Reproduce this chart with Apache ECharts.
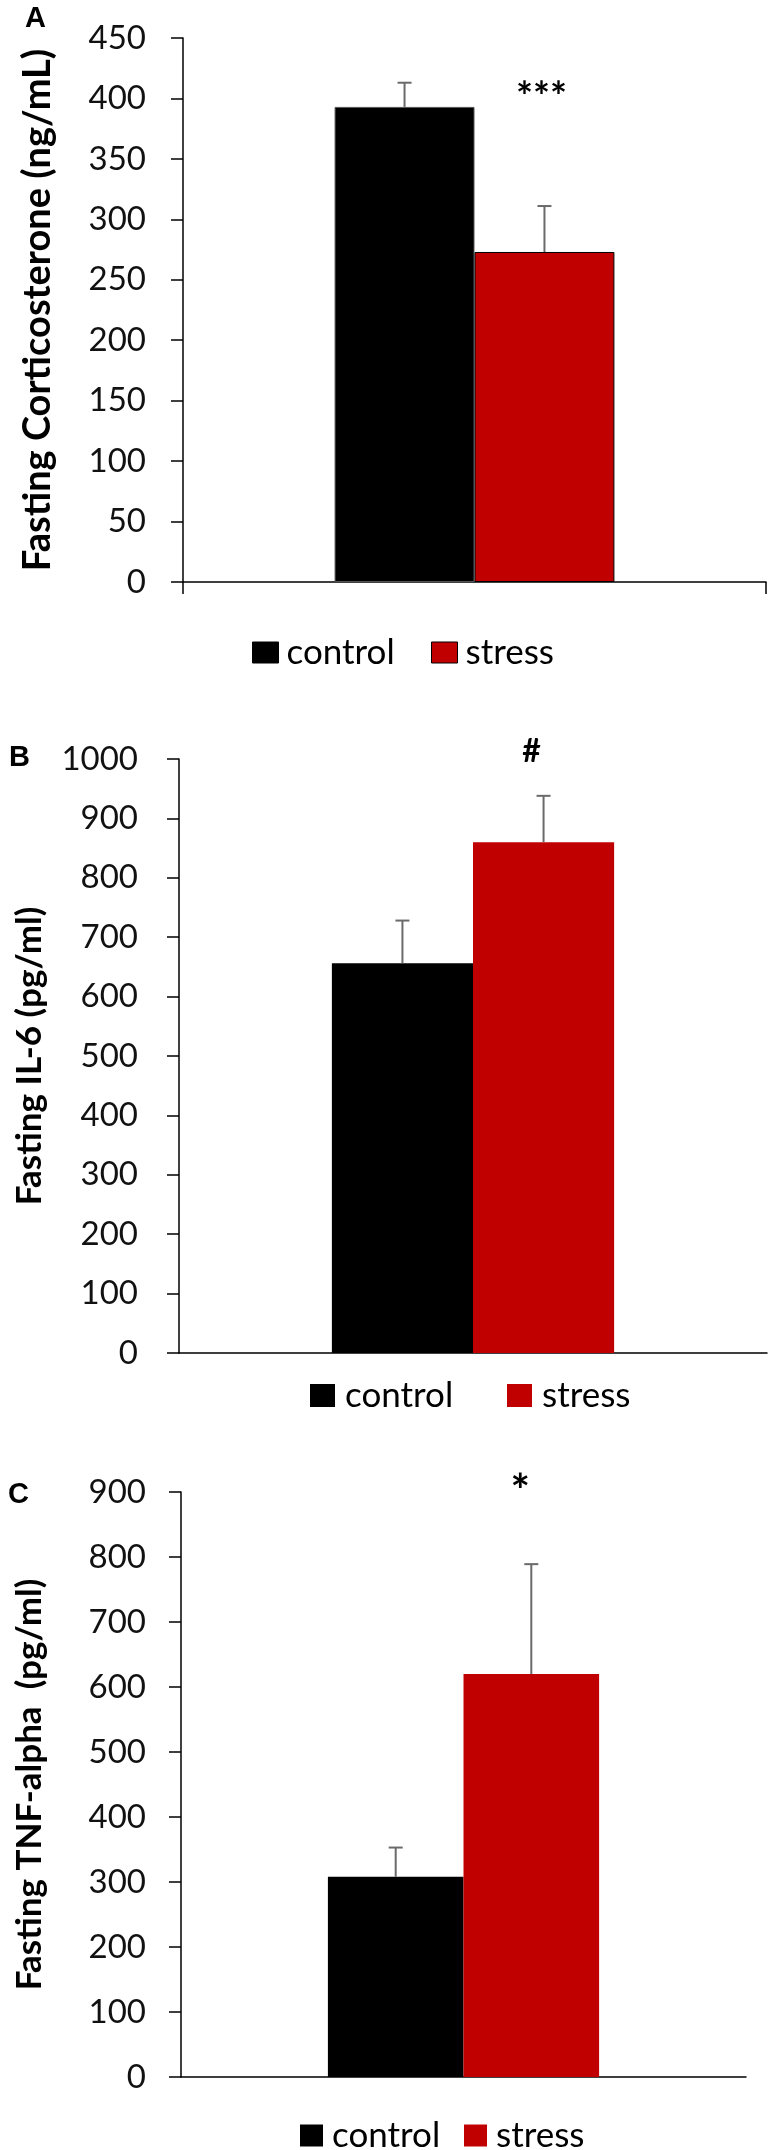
<!DOCTYPE html>
<html><head><meta charset="utf-8">
<script src="https://cdn.jsdelivr.net/npm/echarts@6/dist/echarts.min.js"></script>
<style>html,body{margin:0;padding:0;background:#fff}#c{width:776px;height:2150px}</style>
</head><body><div id="c"></div>
<script>
// ---------- data ----------
const groups = ['control', 'stress'];
const categories = ['all'];
const panelLetters = ['A', 'B', 'C'];
const yTitles = ['Fasting Corticosterone (ng/mL)', 'Fasting IL-6 (pg/ml)', 'Fasting TNF-alpha  (pg/ml)'];
const yMax = [450, 1000, 900];
const yInterval = [50, 100, 100];
// panel A: corticosterone
const corticoMean = [393, 273];
const corticoErr = [20, 38];
// panel B: IL-6
const il6Mean = [656, 860];
const il6Err = [72, 78];
// panel C: TNF-alpha
const tnfMean = [308, 620];
const tnfErr = [45, 169];
// significance marks (over stress bar)
const sigLabels = ['***', '#', '*'];
const sigLevels = [400, 1012, 900];

// ---------- layout / style ----------
const means = [corticoMean, il6Mean, tnfMean];
const errs = [corticoErr, il6Err, tnfErr];
const FONT = 'Lato';
const colors = ['#000000', '#C00000'];
const grids = [
  {left: 183, top: 38, width: 583, height: 544},
  {left: 179, top: 759, width: 588, height: 594},
  {left: 181, top: 1492, width: 565, height: 585}
];
const nameGaps = [126, 132, 134];
const nameSizes = [38, 35, 35];
const labelMargins = [37, 41, 35];
const legendTops = [635, 1378, 2118];
const legendLefts = [[252, 431], [310, 507], [300, 464]];
const legendTextPad = [3, 5, 4];
const legendIcon = [[26, 21], [25, 23], [23, 22]];
const sigFont = [40, 32, 46];
const sigDx = [-3, -12, -11];
const letterPos = [[25, 4], [9, 743], [8, 1480]];
const barFrac = 0.24;

const option = {
  animation: false,
  grid: grids.map(g => Object.assign({containLabel: false, outerBoundsMode: 'none'}, g)),
  xAxis: grids.map((g, i) => ({
    type: 'category', gridIndex: i, data: categories,
    axisLine: {lineStyle: {color: '#000', width: 1.5}},
    axisTick: {show: i === 0, length: 12, inside: false, lineStyle: {color: '#000', width: 1.5}},
    axisLabel: {show: false}
  })),
  yAxis: grids.map((g, i) => ({
    type: 'value', gridIndex: i, min: 0, max: yMax[i], interval: yInterval[i],
    name: yTitles[i], nameLocation: 'middle', nameRotate: 90, nameGap: nameGaps[i],
    nameTextStyle: {fontFamily: FONT, fontWeight: 'bold', fontSize: nameSizes[i], color: '#000'},
    axisLine: {show: true, lineStyle: {color: '#000', width: 1.5}},
    axisTick: {show: true, length: 12, inside: false, lineStyle: {color: '#000', width: 1.5}},
    splitLine: {show: false},
    axisLabel: {fontFamily: FONT, fontSize: 33, color: '#111', margin: labelMargins[i],
      formatter: v => String(v)}
  })),
  legend: [],
  graphic: panelLetters.map((t, i) => ({
    type: 'text', left: letterPos[i][0], top: letterPos[i][1],
    style: {text: t, font: 'bold 29px "Liberation Sans"', fill: '#000'}
  })),
  series: []
};

function errRender(offset) {
  return function (params, api) {
    const x = api.value(0), v = api.value(1), e = api.value(2);
    const p0 = api.coord([x, v]);
    const p1 = api.coord([x, v + e]);
    const band = api.size([1, 0])[0];
    const cx = p0[0] + offset * band;
    const half = 7;
    const st = {stroke: '#6a6a6a', lineWidth: 2};
    return {type: 'group', children: [
      {type: 'line', shape: {x1: cx, y1: p0[1], x2: cx, y2: p1[1]}, style: st},
      {type: 'line', shape: {x1: cx - half, y1: p1[1], x2: cx + half, y2: p1[1]}, style: st}
    ]};
  };
}

for (let i = 0; i < 3; i++) {
  groups.forEach((gname, j) => {
    const bordered = i === 0;
    option.series.push({
      type: 'bar', name: gname, xAxisIndex: i, yAxisIndex: i,
      data: [means[i][j]], barWidth: (barFrac * 100) + '%', barGap: '0%',
      itemStyle: {color: colors[j], borderColor: bordered ? (j === 0 ? '#555' : '#000') : colors[j], borderWidth: bordered ? 1 : 0},
      emphasis: {disabled: true}
    });
    option.series.push({
      type: 'custom', name: 'err-' + gname + i, xAxisIndex: i, yAxisIndex: i, z: 5,
      data: [[0, means[i][j], errs[i][j]]],
      renderItem: errRender(j === 0 ? -barFrac / 2 : barFrac / 2)
    });
    option.legend.push({
      data: [gname], left: legendLefts[i][j], top: legendTops[i], padding: 0,
      icon: 'rect', itemWidth: legendIcon[i][0], itemHeight: legendIcon[i][1],
      selectedMode: false,
      itemStyle: bordered ? {borderColor: '#000', borderWidth: 1} : {borderWidth: 0},
      textStyle: {fontFamily: FONT, fontSize: 35, color: '#000', padding: [0, 0, 0, legendTextPad[i]]}
    });
  });
  option.series.push({
    type: 'custom', name: 'sig' + i, xAxisIndex: i, yAxisIndex: i, z: 6,
    data: [[0, sigLevels[i]]],
    renderItem: (function (k) {
      return function (params, api) {
        const p = api.coord([api.value(0), api.value(1)]);
        const band = api.size([1, 0])[0];
        return {type: 'text', x: p[0] + band * barFrac / 2 + sigDx[k], y: p[1],
          style: {text: sigLabels[k], fontFamily: FONT, fontWeight: 'bold', fontSize: sigFont[k],
            fill: '#000', align: 'center', verticalAlign: 'middle'}};
      };
    })(i)
  });
}

const chart = echarts.init(document.getElementById('c'), null, {renderer: 'canvas'});
chart.setOption(option);
</script>
</body></html>
